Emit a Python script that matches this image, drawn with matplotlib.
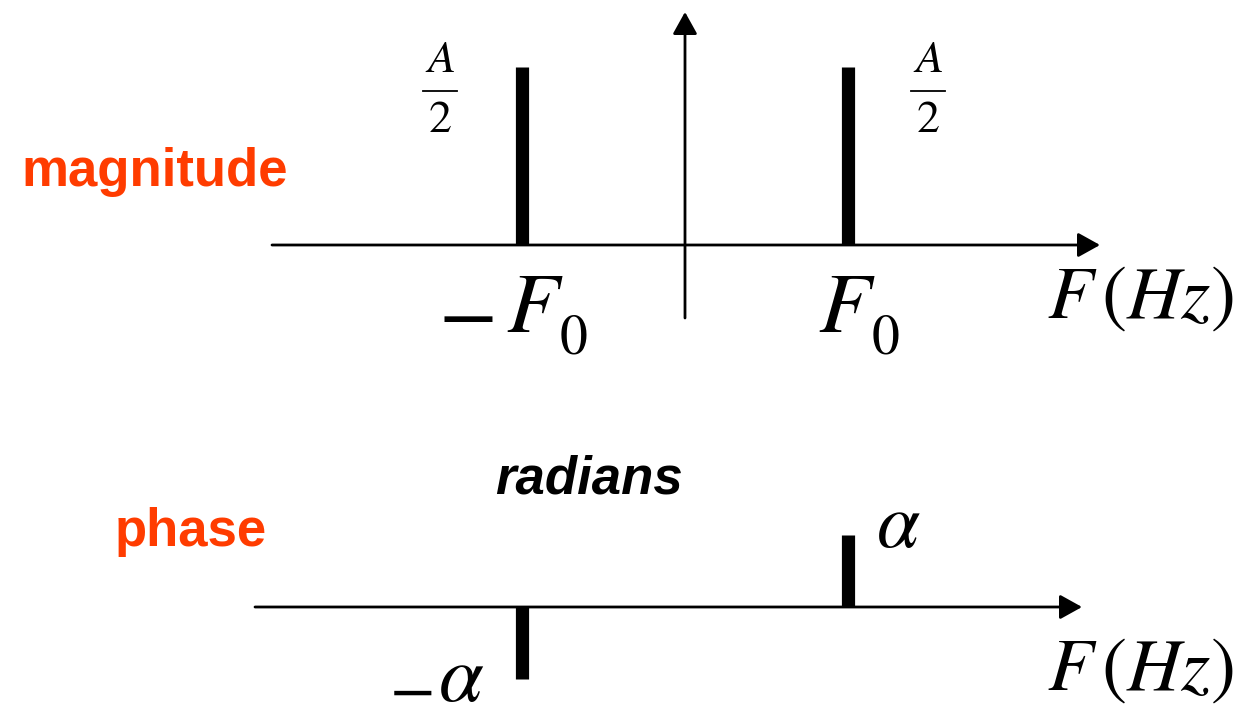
import matplotlib.pyplot as plt

plt.rcParams['mathtext.fontset'] = 'stix'

# spectrum of A*cos(2*pi*F0*t + alpha): two lines at -F0 and +F0
freqs = [-1.0, 1.0]            # in units of F0
magnitude = [1.0, 1.0]         # in units of A/2
phase = [-1.0, 1.0]            # in units of alpha
freq_signs = [r'$-$', '']
mag_num, mag_den = r'$A$', r'$2$'
phase_signs = [r'$-$', '']

W, H = 1246, 712
X0, XS = 685, 163   # pixel column of F=0, pixels per F0
ORANGE = '#ff3c00'

fig = plt.figure(figsize=(W / 100, H / 100), dpi=100)


def fx(px):
    return (px - X0) / XS


def panel(top, bottom, y0, ys):
    # axes spanning pixel rows top..bottom, y=0 at row y0, ys pixels per unit
    ax = fig.add_axes([0, 1 - bottom / H, 1, (bottom - top) / H])
    ax.set_xlim(fx(0), fx(W))
    ax.set_ylim((y0 - bottom) / ys, (y0 - top) / ys)
    ax.axis('off')
    return ax, (lambda py: (y0 - py) / ys)


def arrow(ax, x1, y1, x2, y2):
    ax.annotate('', xy=(x2, y2), xytext=(x1, y1),
                arrowprops=dict(arrowstyle='-|>,head_length=0.45,head_width=0.25',
                                lw=2, color='k', mutation_scale=30,
                                shrinkA=0, shrinkB=0))


# ---- magnitude ----
ax, fy = panel(0, 380, 245, 178)
arrow(ax, fx(272), 0, fx(1100), 0)
arrow(ax, 0, fy(318), 0, fy(12))
ax.vlines(freqs, 0, magnitude, colors='k', lw=9.5)
for f, m, sign in zip(freqs, magnitude, freq_signs):
    # A/2 fraction beside the line
    cx = f + (-82 if f < 0 else 80) / XS
    ax.text(cx, fy(60) + (m - 1), mag_num, fontsize=33, ha='center', va='center')
    ax.text(cx, fy(120) + (m - 1), mag_den, fontsize=33, ha='center', va='center')
    ax.plot([cx - 17 / XS, cx + 17 / XS], [fy(91) + (m - 1)] * 2, color='k', lw=1.3)
    # frequency label  -F0 / F0
    fl = f - 16 / XS if f < 0 else f - 30 / XS
    ax.text(fl, fy(332), r'$F$', fontsize=62, ha='left', va='baseline')
    ax.text(fl + 53 / XS, fy(353), r'$0$', fontsize=40, ha='left', va='baseline')
    if sign:
        ax.text(fl - 40 / XS, fy(315), sign, fontsize=62, ha='center', va='center')
ax.text(fx(1140), fy(318), r'$F\,(Hz)$', fontsize=54, ha='center', va='baseline')
ax.text(fx(155), fy(172), 'magnitude', fontsize=38, fontweight='bold',
        color=ORANGE, ha='center', va='center', family='Liberation Sans')

# ---- phase ----
ax, fy = panel(380, 712, 607, 72)
arrow(ax, fx(255), 0, fx(1082), 0)
ax.vlines(freqs, 0, phase, colors='k', lw=9.5)
for f, p, sign in zip(freqs, phase, phase_signs):
    if p > 0:
        ax.text(f + 28 / XS, fy(547), r'$\alpha$', fontsize=56, ha='left', va='baseline')
    else:
        ax.text(f - 84 / XS, fy(701), r'$\alpha$', fontsize=58, ha='left', va='baseline')
        ax.text(f - 111 / XS, fy(690), sign, fontsize=48, ha='center', va='center')
ax.text(fx(1140), fy(690), r'$F\,(Hz)$', fontsize=54, ha='center', va='baseline')
ax.text(fx(191), fy(532), 'phase', fontsize=38, fontweight='bold',
        color=ORANGE, ha='center', va='center', family='Liberation Sans')
ax.text(fx(589), fy(480), 'radians', fontsize=38, fontweight='bold',
        fontstyle='italic', color='k', ha='center', va='center',
        family='Liberation Sans')

fig.savefig('out.png', dpi=100)
